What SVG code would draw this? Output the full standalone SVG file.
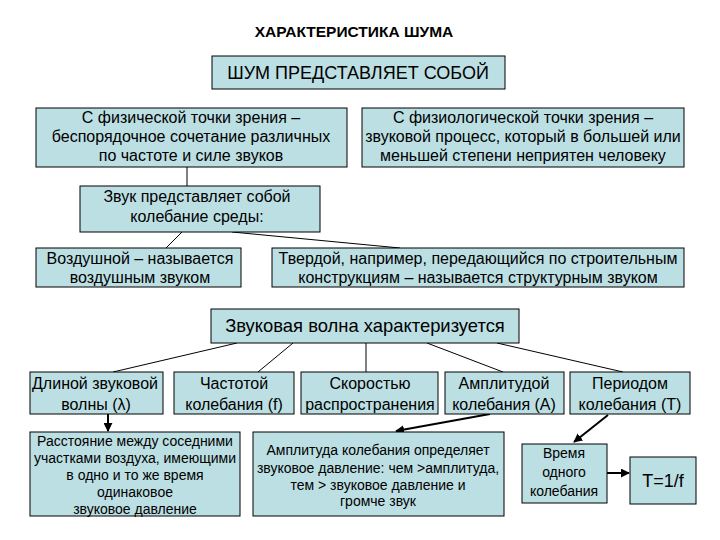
<svg xmlns="http://www.w3.org/2000/svg" width="720" height="540" viewBox="0 0 720 540">
<style>
.b{fill:#bcdfe3;stroke:#000;stroke-width:1}
text{font-family:"Liberation Sans",Arial,sans-serif;fill:#000;text-anchor:middle}
.t16{font-size:16px}
.t14{font-size:14px}
.c{stroke:#000;stroke-width:1;fill:none}
.a{stroke:#000;stroke-width:2;fill:none;marker-end:url(#ah)}
</style>
<defs>
<marker id="ah" viewBox="0 0 10 10" refX="9" refY="5" markerWidth="4.5" markerHeight="4.5" orient="auto"><path d="M0,0L10,5L0,10z" fill="#000"/></marker>
</defs>
<rect width="720" height="540" fill="#fff"/>
<text x="354" y="37" style="font-size:15.5px;font-weight:bold">ХАРАКТЕРИСТИКА ШУМА</text>
<g id="connectors">
<line class="c" x1="187" y1="167" x2="187" y2="186"/>
<line class="c" x1="182" y1="232" x2="166" y2="248"/>
<line class="c" x1="232" y1="232" x2="400" y2="248"/>
<line class="c" x1="237" y1="343" x2="113" y2="372"/>
<line class="c" x1="293" y1="343" x2="258" y2="372"/>
<line class="c" x1="366" y1="343" x2="366" y2="372"/>
<line class="c" x1="427" y1="343" x2="503" y2="372"/>
<line class="c" x1="497" y1="343" x2="623" y2="372"/>
<line class="a" x1="108" y1="414" x2="108" y2="431"/>
<line class="a" x1="490" y1="414" x2="396" y2="431"/>
<line class="a" x1="608" y1="415" x2="574" y2="442"/>
<line class="a" x1="607" y1="473" x2="629" y2="473"/>
</g>
<g id="n1"><rect class="b" x="212" y="56" width="293" height="33"/><text x="358" y="79" style="font-size:18px">ШУМ ПРЕДСТАВЛЯЕТ СОБОЙ</text></g>
<g id="n2"><rect class="b" x="36" y="108" width="311" height="59"/><text class="t16"><tspan x="191" y="123">С физической точки зрения –</tspan><tspan x="191" y="142">беспорядочное сочетание различных</tspan><tspan x="191" y="161">по частоте и силе звуков</tspan></text></g>
<g id="n3"><rect class="b" x="362" y="108" width="322" height="59"/><text class="t16"><tspan x="523" y="123">С физиологической точки зрения –</tspan><tspan x="523" y="142">звуковой процесс, который в большей или</tspan><tspan x="523" y="161">меньшей степени неприятен человеку</tspan></text></g>
<g id="n4"><rect class="b" x="80" y="186" width="240" height="46"/><text class="t16"><tspan x="197" y="202">Звук представляет собой</tspan><tspan x="197" y="222">колебание среды:</tspan></text></g>
<g id="n5"><rect class="b" x="36" y="248" width="205" height="39"/><text class="t16"><tspan x="140" y="264">Воздушной – называется</tspan><tspan x="140" y="283">воздушным звуком</tspan></text></g>
<g id="n6"><rect class="b" x="272" y="248" width="412" height="39"/><text class="t16"><tspan x="478" y="264">Твердой, например, передающийся по строительным</tspan><tspan x="478" y="283">конструкциям – называется структурным звуком</tspan></text></g>
<g id="n7"><rect class="b" x="211" y="309" width="308" height="34"/><text x="365" y="332" style="font-size:18.4px">Звуковая волна характеризуется</text></g>
<g id="n8"><rect class="b" x="30" y="372" width="133" height="42"/><text class="t16"><tspan x="95" y="389">Длиной звуковой</tspan><tspan x="96" y="410">волны (λ)</tspan></text></g>
<g id="n9"><rect class="b" x="174" y="372" width="120" height="42"/><text class="t16"><tspan x="234" y="389">Частотой</tspan><tspan x="234" y="410">колебания (f)</tspan></text></g>
<g id="n10"><rect class="b" x="301" y="372" width="137" height="42"/><text class="t16"><tspan x="370" y="389">Скоростью</tspan><tspan x="370" y="410">распространения</tspan></text></g>
<g id="n11"><rect class="b" x="445" y="372" width="119" height="42"/><text class="t16"><tspan x="504" y="389">Амплитудой</tspan><tspan x="504" y="410">колебания (А)</tspan></text></g>
<g id="n12"><rect class="b" x="570" y="372" width="120" height="42"/><text class="t16"><tspan x="630" y="389">Периодом</tspan><tspan x="630" y="410">колебания (Т)</tspan></text></g>
<g id="n13"><rect class="b" x="30" y="432" width="210" height="84"/><text class="t14"><tspan x="135" y="446">Расстояние между соседними</tspan><tspan x="135" y="463">участками воздуха, имеющими</tspan><tspan x="135" y="480">в одно и то же время</tspan><tspan x="135" y="497">одинаковое</tspan><tspan x="135" y="514">звуковое давление</tspan></text></g>
<g id="n14"><rect class="b" x="253" y="432" width="251" height="84"/><text class="t14"><tspan x="378" y="455">Амплитуда колебания определяет</tspan><tspan x="378" y="473">звуковое давление: чем &gt;амплитуда,</tspan><tspan x="378" y="490">тем &gt; звуковое давление и</tspan><tspan x="378" y="506">громче звук</tspan></text></g>
<g id="n15"><rect class="b" x="522" y="444" width="85" height="59"/><text class="t14"><tspan x="564" y="458">Время</tspan><tspan x="564" y="477">одного</tspan><tspan x="564" y="496">колебания</tspan></text></g>
<g id="n16"><rect class="b" x="630" y="457" width="66" height="47"/><text x="663" y="487" style="font-size:18px">Т=1/f</text></g>
</svg>
